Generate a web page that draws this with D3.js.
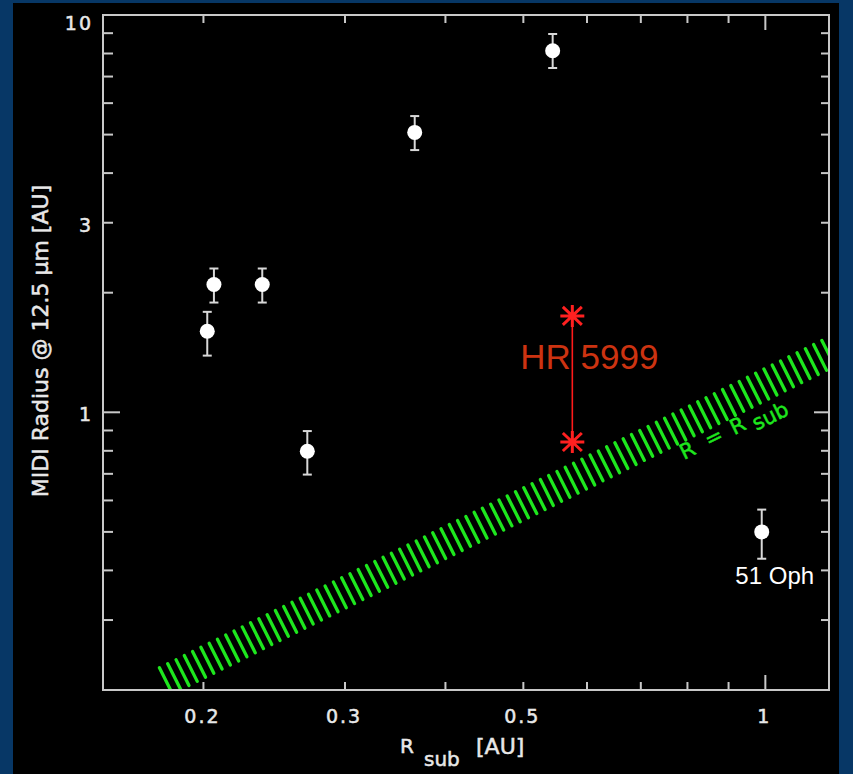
<!DOCTYPE html>
<html>
<head>
<meta charset="utf-8">
<script src="https://cdn.jsdelivr.net/npm/d3@7"></script>
<style>
body { margin: 0; background: #073766; }
svg { display: block; }
</style>
</head>
<body>
<svg id="chart" width="853" height="774"></svg>
<script>
// MIDI sample: sublimation radius vs. measured radius [AU]
var rsub = [0.2022, 0.2061, 0.2367, 0.2693, 0.3663, 0.5438, 0.9897];
var radius = [1.600, 2.097, 2.097, 0.798, 5.064, 8.131, 0.500];
var radiusLo = [1.389, 1.889, 1.889, 0.697, 4.571, 7.355, 0.428];
var radiusHi = [1.790, 2.301, 2.301, 0.897, 5.567, 8.957, 0.569];
var starNames = ["", "", "", "", "", "", "51 Oph"];

// HR 5999: two estimates at one R_sub
var hrRsub = 0.5753;
var hrRadius = [1.748, 0.842];

// the R = R_sub band (ratio R / R_sub at its edges)
var bandLow = 1.07, bandHigh = 1.29, bandStart = 0.183, bandEnd = 1.25;

var xTickLabels = [0.2, 0.3, 0.5, 1];
var yTickLabels = [1, 3, 10];

var svg = d3.select("#chart"),
	pLeft = 103, pRight = 829, pTop = 15, pBottom = 690,
	frameColor = "#c8c8c8",
	textColor = "#e8e8e8",
	green = "#1ee61e";

var x = d3.scaleLog().domain([0.15, 1.2]).range([pLeft, pRight]),
	y = d3.scaleLog().domain([0.2, 10]).range([pBottom, pTop]);

function isMajor(v) { return Math.abs(Math.log10(v) - Math.round(Math.log10(v))) < 1e-6; }

// thin outline so the labels look like the plotter's stroke font
function plotterText(sel, color) {
	return sel.attr("font-family", "DejaVu Sans").attr("fill", color)
		.attr("stroke", color).attr("stroke-width", 0.5);
}

// black plot panel
svg.append("rect").attr("x", 13).attr("y", 3).attr("width", 826).attr("height", 771).attr("fill", "#000");

svg.append("clipPath").attr("id", "plotClip")
  .append("rect").attr("x", pLeft).attr("y", pTop).attr("width", pRight - pLeft).attr("height", pBottom - pTop);

// --- BAND --- //
var hatch = d3.range(Math.log10(bandStart), Math.log10(bandEnd), 0.0103).map(function(l) { return Math.pow(10, l); }),
	lean = 0.9635;

svg.append("g").attr("clip-path", "url(#plotClip)")
	.selectAll("line").data(hatch).enter().append("line")
	.attr("x1", function(r) { return x(r); })
	.attr("y1", function(r) { return y(bandLow * r); })
	.attr("x2", function(r) { return x(r * lean); })
	.attr("y2", function(r) { return y(bandHigh * r * lean); })
	.attr("stroke", green).attr("stroke-width", 3.3).attr("stroke-linecap", "round");

var angle = Math.atan2(y(1) - y(10), x(10) - x(1)) * 180 / Math.PI;
var bandText = plotterText(svg.append("text"), green)
	.attr("transform", "translate(684,460) rotate(" + (-angle) + ")")
	.attr("font-size", 21);
bandText.append("tspan").attr("x", 0).text("R");
bandText.append("tspan").attr("x", 28).text("=");
bandText.append("tspan").attr("x", 56).text("R");
bandText.append("tspan").attr("x", 78).attr("dy", 6).text("sub");

// --- FRAME & TICKS --- //
svg.append("rect").attr("x", pLeft).attr("y", pTop).attr("width", pRight - pLeft).attr("height", pBottom - pTop)
	.attr("fill", "none").attr("stroke", frameColor).attr("stroke-width", 2);

var ticks = svg.append("g").attr("stroke", frameColor).attr("stroke-width", 2);
var xt = x.ticks().filter(function(v) { return x(v) > pLeft + 1 && x(v) < pRight - 1; });
var yt = y.ticks().filter(function(v) { return y(v) > pTop + 1 && y(v) < pBottom - 1; });

xt.forEach(function(v) {
	var len = isMajor(v) ? 15 : 8;
	ticks.append("line").attr("x1", x(v)).attr("x2", x(v)).attr("y1", pBottom).attr("y2", pBottom - len);
	ticks.append("line").attr("x1", x(v)).attr("x2", x(v)).attr("y1", pTop).attr("y2", pTop + len);
});
yt.forEach(function(v) {
	var big = isMajor(v);
	ticks.append("line").attr("y1", y(v)).attr("y2", y(v)).attr("x1", pLeft).attr("x2", pLeft + (big ? 17 : 10));
	ticks.append("line").attr("y1", y(v)).attr("y2", y(v)).attr("x1", pRight).attr("x2", pRight - (big ? 15 : 8));
});

// tick labels
plotterText(svg.append("g"), textColor).attr("font-size", 19).attr("letter-spacing", 2)
	.selectAll("text").data(xTickLabels).enter().append("text")
	.attr("x", function(d) { return x(d) - 1; })
	.attr("y", 723)
	.attr("text-anchor", "middle")
	.text(function(d) { return d; });

plotterText(svg.append("g"), textColor).attr("font-size", 19).attr("letter-spacing", 2)
	.selectAll("text").data(yTickLabels).enter().append("text")
	.attr("x", 93)
	.attr("y", function(d) { return Math.max(y(d) + 9, 30); })
	.attr("text-anchor", "end")
	.text(function(d) { return d; });

// axis titles
plotterText(svg.append("text"), textColor)
	.attr("transform", "translate(48,341) rotate(-90)")
	.attr("text-anchor", "middle")
	.attr("font-size", 22)
	.text("MIDI Radius @ 12.5 \u03bcm [AU]");

var xTitle = plotterText(svg.append("g"), textColor);
xTitle.append("text").attr("x", 400).attr("y", 753).attr("font-size", 20).text("R");
xTitle.append("text").attr("x", 424).attr("y", 766).attr("font-size", 20).text("sub");
xTitle.append("text").attr("x", 476).attr("y", 754).attr("font-size", 22).text("[AU]");

// --- DATA POINTS --- //
var pts = svg.append("g").selectAll("g").data(rsub).enter().append("g");

pts.append("line")
	.attr("x1", function(d) { return x(d); }).attr("x2", function(d) { return x(d); })
	.attr("y1", function(d, i) { return y(radiusLo[i]); })
	.attr("y2", function(d, i) { return y(radiusHi[i]); })
	.attr("stroke", "#d8d8d8").attr("stroke-width", 2);
[radiusLo, radiusHi].forEach(function(arr) {
	pts.append("line")
		.attr("x1", function(d) { return x(d) - 4.5; }).attr("x2", function(d) { return x(d) + 4.5; })
		.attr("y1", function(d, i) { return y(arr[i]); })
		.attr("y2", function(d, i) { return y(arr[i]); })
		.attr("stroke", "#d8d8d8").attr("stroke-width", 2);
});
pts.append("circle")
	.attr("cx", function(d) { return x(d); })
	.attr("cy", function(d, i) { return y(radius[i]); })
	.attr("r", 7.5).attr("fill", "#fff");
pts.append("text")
	.attr("x", function(d) { return x(d) + 13; })
	.attr("y", function(d, i) { return y(radius[i]) + 52; })
	.attr("text-anchor", "middle")
	.attr("font-family", "Liberation Sans, Arial").attr("font-size", 24).attr("fill", "#fff")
	.text(function(d, i) { return starNames[i]; });

// --- HR 5999 --- //
var hr = svg.append("g");
hr.append("line")
	.attr("x1", x(hrRsub)).attr("x2", x(hrRsub))
	.attr("y1", y(hrRadius[0])).attr("y2", y(hrRadius[1]))
	.attr("stroke", "#ff1a1a").attr("stroke-width", 1.6);
var star = "M-12,0L12,0M0,-11L0,11M-9.5,-9L9.5,9M-9.5,9L9.5,-9";
hr.selectAll("path").data(hrRadius).enter().append("path")
	.attr("transform", function(d) { return "translate(" + x(hrRsub) + "," + y(d) + ")"; })
	.attr("d", star)
	.attr("stroke", "#ff2020").attr("stroke-width", 3).attr("fill", "none");
hr.append("text")
	.attr("x", x(hrRsub) - 52).attr("y", 369)
	.attr("font-family", "Liberation Sans, Arial").attr("font-size", 35).attr("fill", "#cc3311")
	.text("HR 5999");
</script>
</body>
</html>
